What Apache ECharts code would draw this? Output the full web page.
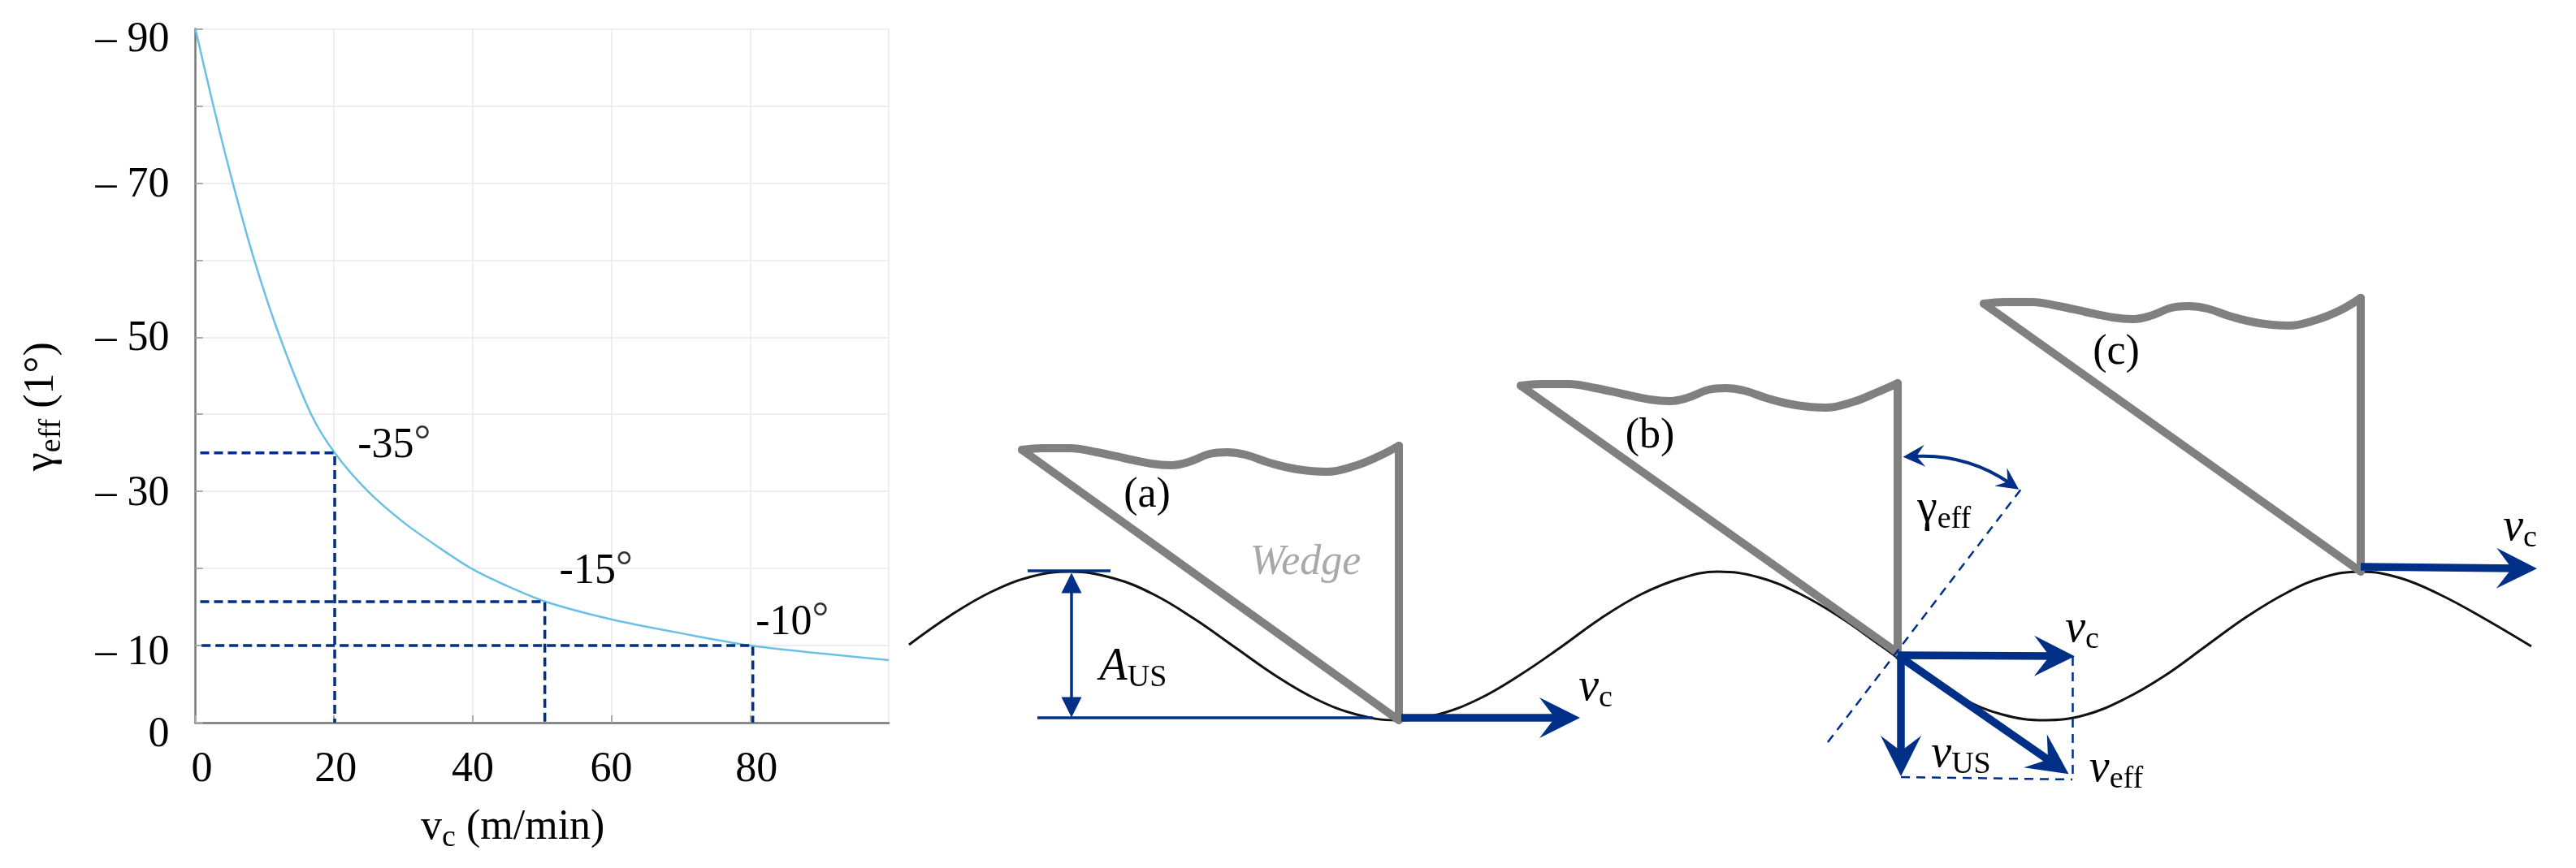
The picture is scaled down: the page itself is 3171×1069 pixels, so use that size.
<!DOCTYPE html>
<html>
<head>
<meta charset="utf-8">
<title>effective rake angle</title>
<style>html,body{margin:0;padding:0;background:#fff}#chart{width:3171px;height:1069px}</style>
<script src="https://cdn.jsdelivr.net/npm/echarts@6/dist/echarts.min.js"></script>
</head>
<body>
<div id="chart"></div>
<script>
// left plot: gamma_eff against cutting speed
const vcValues = [0, 2.6, 5.4, 8.5, 12.2, 16.7, 20.1, 24.9, 30, 35, 39.8, 44.8, 50.5, 60, 70, 80, 90, 100];
const gammaValues = [90, 80, 70, 60, 50, 40, 35, 30, 26, 22.8, 20, 17.8, 15.7, 13.4, 11.6, 10, 9, 8.1];
const guide35 = [[0.7, 35], [20.1, 35], [20.1, 0]];
const guide15 = [[0.7, 15.7], [50.4, 15.7], [50.4, 0]];
const guide10 = [[0.9, 10], [80.4, 10], [80.4, 0]];
const pointLabels = [[23.4, 35.9, '-35'], [52.5, 19.6, '-15'], [80.8, 12.9, '-10']];
const xTickLabels = {0: '0', 20: '20', 40: '40', 60: '60', 80: '80'};
const yTickLabels = {0: '0', 10: '– 10', 30: '– 30', 50: '– 50', 70: '– 70', 90: '– 90'};

// right schematic, in its own units
const waveX = [1119, 1170, 1220, 1270, 1317, 1370, 1420, 1470, 1520, 1570, 1620, 1670, 1719, 1770, 1820, 1870, 1920, 1970, 2020, 2070, 2114, 2165, 2215, 2265, 2315, 2365, 2415, 2465, 2517, 2565, 2615, 2665, 2715, 2765, 2815, 2860, 2906, 2955, 3005, 3055, 3116];
const waveY = [794, 758, 729, 710, 704, 712, 732, 762, 797, 832, 861, 880, 887, 880, 861, 832, 798, 762, 732, 712, 704, 711, 731, 760, 795, 830, 860, 880, 887, 881, 861, 832, 796, 760, 730, 711, 704, 712, 733, 760, 796];
const wedgeATop = [[1258, 554], [1283, 552], [1317, 552], [1350, 557], [1383, 564], [1417, 571], [1442, 573], [1463, 569], [1489, 559], [1510, 557], [1533, 560], [1563, 570], [1597, 578], [1633, 581], [1667, 574], [1697, 562], [1722, 549]];
const wedgeASide = [[1258, 554], [1722, 887], [1722, 549]];
const wedgeBTop = [[1872, 475], [1897, 473], [1931, 473], [1964, 478], [1997, 485], [2031, 492], [2056, 494], [2077, 490], [2103, 480], [2124, 478], [2147, 481], [2177, 491], [2211, 499], [2247, 502], [2281, 495], [2311, 483], [2336, 472]];
const wedgeBSide = [[1872, 475], [2336, 804], [2336, 472]];
const wedgeCTop = [[2442, 374], [2467, 372], [2501, 372], [2534, 377], [2567, 384], [2601, 391], [2626, 393], [2647, 389], [2673, 379], [2694, 377], [2717, 380], [2747, 390], [2781, 398], [2817, 401], [2851, 394], [2881, 382], [2906, 367]];
const wedgeCSide = [[2442, 374], [2906, 704], [2906, 367]];
const thinLines = [[[1265, 703], [1367, 703]], [[1277, 884], [1690, 884]]];
const dashedLines = [[[2250, 914], [2489, 601]], [[2551, 809], [2551, 961]], [[2340, 957], [2551, 960]]];
const thickArrows = [[[1725, 884], [1920, 884]], [[2336, 807], [2529, 808]], [[2906, 698], [3098, 700]], [[2340, 807], [2340, 931]], [[2336, 807], [2526, 939]]];
const amplitudeArrow = [[[1319, 718], [1319, 871]]];
const angleArrow = [[[2356, 562], [2474, 595]]];
const textLabels = [
  [1412, 610, '(a)', 'plain'], [2031, 537, '(b)', 'plain'], [2605, 434, '(c)', 'plain'],
  [1607, 693, 'Wedge', 'wedge'],
  [1395, 822, '{i|A}{s|US}', 'rich'], [1964, 847, '{i|v}{s|c}', 'rich'], [2563, 775, '{i|v}{s|c}', 'rich'],
  [3102, 650, '{i|v}{s|c}', 'rich'], [2414, 929, '{i|v}{s|US}', 'rich'], [2605, 947, '{i|v}{s|eff}', 'rich'],
  [2393, 627, '{g|γ}{s|eff}', 'rich']
];

const SERIF = 'Liberation Serif';
const NAVY = '#002f87';
const GREY = '#808080';
const INK = '#000';
const HEAD = 'path://M50,0 L100,100 L50,62 L0,100 Z';

const zip = (xs, ys) => xs.map((x, i) => [x, ys[i]]);
const pad = (dx, dy) => ({
  fontFamily: SERIF, fontSize: 52, color: INK,
  padding: [dy > 0 ? dy * 2 : 0, 0, 0, dx > 0 ? dx * 2 : 0]
});
const subStyle = {fontFamily: SERIF, fontSize: 38, color: INK, padding: [26, 0, 0, 0]};

const guide = (points) => ({
  type: 'line', data: points, symbol: 'none', silent: true, z: 4,
  lineStyle: {color: NAVY, width: 3.5, type: [11, 6]}
});
const wedgeLine = (points, smooth) => ({
  type: 'line', xAxisIndex: 1, yAxisIndex: 1, data: points, symbol: 'none', smooth: smooth, silent: true, z: 4,
  lineStyle: {color: GREY, width: 10, cap: 'round', join: 'round'}
});
const segments = (list, symbol, size, width, dash, curve) => ({
  type: 'lines', coordinateSystem: 'cartesian2d', xAxisIndex: 1, yAxisIndex: 1, silent: true, z: 5,
  symbol: symbol, symbolSize: size,
  lineStyle: {color: NAVY, width: width, type: dash, opacity: 1, curveness: curve || 0},
  data: list.map(s => ({coords: s}))
});

const chart = echarts.init(document.getElementById('chart'));
chart.setOption({
  animation: false,
  backgroundColor: '#fff',
  textStyle: {fontFamily: SERIF},
  grid: [
    {left: 240.5, top: 35.5, width: 853.5, height: 854.5, outerBoundsMode: 'none'},
    {left: 1100, top: 0, width: 2071, height: 1069, outerBoundsMode: 'none'}
  ],
  xAxis: [
    {
      type: 'value', min: 0, max: 100, interval: 20,
      name: '{n|v}{s|c}{n| (m/min)}', nameLocation: 'middle', nameGap: 97, nameMoveOverlap: false,
      nameTextStyle: {padding: [0, 72, 0, 0], rich: {
        n: {fontFamily: SERIF, fontSize: 52, color: INK},
        s: subStyle
      }},
      axisLine: {lineStyle: {color: '#777', width: 2.5}},
      axisTick: {inside: true, length: 9, lineStyle: {color: '#aaa', width: 2}},
      splitLine: {lineStyle: {color: '#eaeaea', width: 1.5}},
      axisLabel: {
        margin: 32,
        showMaxLabel: false,
        formatter: v => xTickLabels[v] ? '{x' + v + '|' + xTickLabels[v] + '}' : '',
        rich: {x0: pad(8, 0), x20: pad(2, 0), x40: pad(0, 0), x60: pad(0, 0), x80: pad(8, 0)}
      }
    },
    {type: 'value', gridIndex: 1, min: 1100, max: 3171, show: false}
  ],
  yAxis: [
    {
      type: 'value', min: 0, max: 90, interval: 10,
      name: '{g|γ}{s|eff}{n| (1°)}', nameLocation: 'middle', nameGap: 157, nameRotate: 90, nameMoveOverlap: false,
      nameTextStyle: {padding: [0, 76, 0, 0], rich: {
        g: {fontFamily: SERIF, fontSize: 52, color: INK},
        n: {fontFamily: SERIF, fontSize: 52, color: INK},
        s: subStyle
      }},
      axisLine: {lineStyle: {color: '#777', width: 2.5}},
      axisTick: {inside: true, length: 9, lineStyle: {color: '#aaa', width: 2}},
      splitLine: {lineStyle: {color: '#eaeaea', width: 1.5}},
      axisLabel: {
        margin: 32,
        formatter: v => yTickLabels[v] ? '{y' + v + '|' + yTickLabels[v] + '}' : '',
        rich: {y0: pad(0, 15), y10: pad(0, 9), y30: pad(0, 3), y50: pad(0, 2), y70: pad(0, 3), y90: pad(0, 14)}
      }
    },
    {type: 'value', gridIndex: 1, min: 0, max: 1069, inverse: true, show: false}
  ],
  series: [
    {
      type: 'line', data: zip(vcValues, gammaValues), symbol: 'none', smooth: 0.3, silent: true, z: 3,
      lineStyle: {color: '#6cc0e6', width: 2.5}
    },
    guide(guide35), guide(guide15), guide(guide10),
    {
      type: 'scatter', data: pointLabels, symbolSize: 0, silent: true, z: 6,
      itemStyle: {opacity: 1},
      label: {
        show: true, position: 'right', distance: 0, color: INK,
        formatter: p => '{t|' + p.value[2] + '}{d|°}',
        rich: {
          t: {fontFamily: SERIF, fontSize: 52, color: INK},
          d: {fontFamily: SERIF, fontSize: 52, color: '#333', padding: [0, 0, 8, 0]}
        }
      }
    },
    {
      type: 'line', xAxisIndex: 1, yAxisIndex: 1, data: zip(waveX, waveY), symbol: 'none', smooth: 0.4, silent: true, z: 2,
      lineStyle: {color: '#111', width: 3}
    },
    wedgeLine(wedgeATop, 0.4), wedgeLine(wedgeASide, false),
    wedgeLine(wedgeBTop, 0.4), wedgeLine(wedgeBSide, false),
    wedgeLine(wedgeCTop, 0.4), wedgeLine(wedgeCSide, false),
    segments(thinLines, 'none', 0, 3.5, 'solid'),
    segments(dashedLines, 'none', 0, 2.5, [11, 8]),
    segments(thickArrows, ['none', HEAD], 50, 9.5, 'solid'),
    segments(amplitudeArrow, ['triangle', 'triangle'], 25, 3.5, 'solid'),
    segments(angleArrow, [HEAD, HEAD], 27, 4, 'solid', 0.17),
    {
      type: 'scatter', xAxisIndex: 1, yAxisIndex: 1, symbolSize: 0, silent: true, z: 7,
      itemStyle: {opacity: 1},
      data: textLabels.map(t => t[3] === 'wedge'
        ? {value: t, label: {color: '#a8a8a8', fontStyle: 'italic'}}
        : {value: t}),
      label: {
        show: true, position: 'inside', align: 'center', verticalAlign: 'middle', color: INK,
        fontFamily: SERIF, fontSize: 52,
        formatter: p => p.value[2],
        rich: {
          i: {fontFamily: SERIF, fontStyle: 'italic', fontSize: 56, color: INK},
          g: {fontFamily: SERIF, fontSize: 56, color: INK},
          s: subStyle
        }
      }
    }
  ]
});
</script>
</body>
</html>
